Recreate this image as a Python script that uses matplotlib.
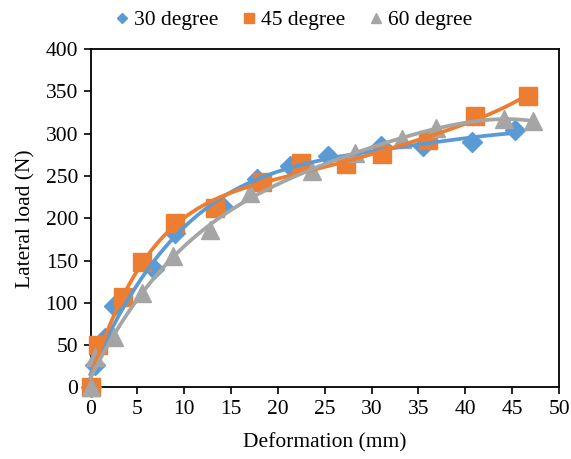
import numpy as np
import matplotlib.pyplot as plt

plt.rcParams['font.family'] = ['Liberation Serif', 'DejaVu Serif']

# deformation (mm) / lateral load (N)
x30 = [0, 0.5, 1.5, 2.5, 6.8, 9.0, 14.0, 17.8, 21.3, 25.3, 31.0, 35.5, 40.7, 45.3]
y30 = [0, 27, 58, 96, 140, 182, 214, 246, 262, 274, 286, 285, 290, 304]

x45 = [0, 0.8, 3.5, 5.5, 9.0, 13.3, 18.3, 22.5, 27.3, 31.1, 36.0, 41.0, 46.7]
y45 = [0, 50, 107, 148, 194, 212, 243, 265, 264, 276, 293, 321, 345]

x60 = [0, 0.5, 2.5, 5.5, 8.8, 12.8, 17.0, 23.6, 28.2, 33.2, 36.9, 44.1, 47.2]
y60 = [0, 36, 60, 112, 155, 186, 230, 256, 277, 294, 307, 317, 315]

labels = ['30 degree', '45 degree', '60 degree']
colors = ['#5B9BD5', '#ED7D31', '#A5A5A5']
markers = ['D', 's', '^']
msizes = [10, 13, 13]
degrees = [4, 5, 4]

fig = plt.figure(figsize=(5.71, 4.59), dpi=100)
ax = fig.add_axes([0.1585, 0.156, 0.8205, 0.737])

series = [(x30, y30), (x45, y45), (x60, y60)]
for (xs, ys), lab, c, m, ms in zip(series, labels, colors, markers, msizes):
    ax.plot(xs, ys, linestyle='none', marker=m, markersize=ms, color=c, label=lab,
            zorder=3, clip_on=False)

# polynomial trendlines like the spreadsheet ones
for (xs, ys), c, d in zip(series, colors, degrees):
    p = np.polynomial.Polynomial.fit(xs, ys, d)
    xx = np.linspace(0, max(xs), 300)
    ax.plot(xx, p(xx), color=c, linewidth=2.7, zorder=4, clip_on=False)

ax.set_xlim(0, 50)
ax.set_ylim(0, 400)
ax.set_xticks(np.arange(0, 51, 5))
ax.set_yticks(np.arange(0, 401, 50))
ax.tick_params(direction='out', length=5, width=1.2, labelsize=15.5, pad=4)
for s in ax.spines.values():
    s.set_linewidth(1.3)
ax.set_xlabel('Deformation (mm)', fontsize=15.5, labelpad=10)
ax.set_ylabel('Lateral load (N)', fontsize=15.5, labelpad=7)

fig.legend(loc='upper center', bbox_to_anchor=(0.51, 1.02), ncol=3, frameon=False,
           fontsize=15.5, handletextpad=0.0, columnspacing=0.9, markerscale=0.55,
           handlelength=1.1)

fig.savefig('out.png', dpi=100)
